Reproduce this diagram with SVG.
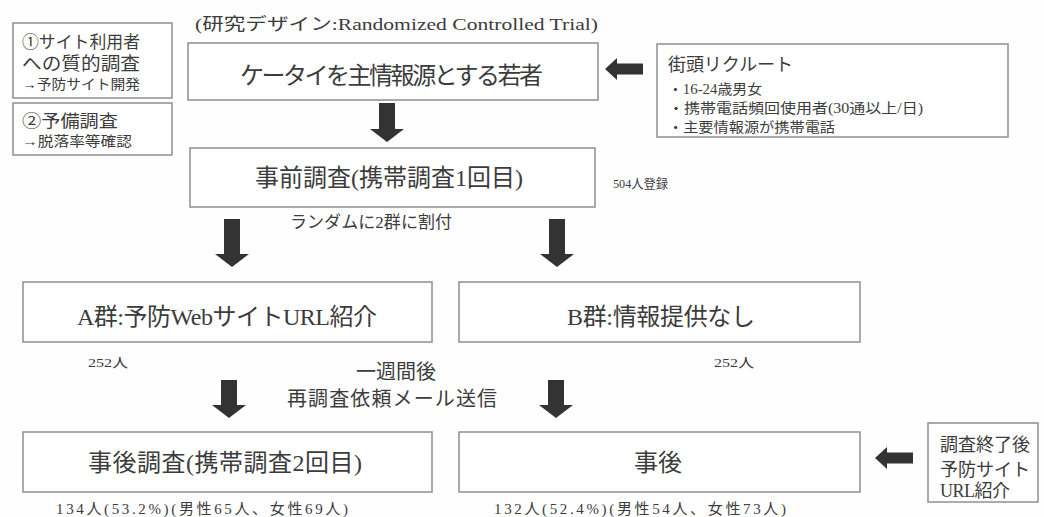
<svg xmlns="http://www.w3.org/2000/svg" width="1044" height="517" viewBox="0 0 1044 517">
<style>
  .box{fill:#fff;stroke:#8f8f8f;stroke-width:1.5}
  .t{font-family:"Liberation Serif","Noto Sans CJK JP",serif;fill:#3c3c3c}
  .big{font-size:24px}
  .mid{font-size:18px}
  .sm{font-size:14px}
  .xs{font-size:13px}
  .cnt{font-size:15px}
  .arr{fill:#333}
</style>
<rect width="1044" height="517" fill="#fefefe"/>

<g id="title">
  <text class="t" x="195" y="30" font-size="17" textLength="403" lengthAdjust="spacingAndGlyphs">(研究デザイン:Randomized Controlled Trial)</text>
</g>

<g id="node-qualitative">
  <rect class="box" x="13" y="23" width="159" height="75"/>
  <text class="t" x="22" y="48" font-size="17" textLength="118" lengthAdjust="spacingAndGlyphs">①サイト利用者</text>
  <text class="t" x="22" y="70" font-size="18" textLength="118" lengthAdjust="spacingAndGlyphs">への質的調査</text>
  <text class="t" x="22" y="89" font-size="14" textLength="118" lengthAdjust="spacingAndGlyphs">→予防サイト開発</text>
</g>

<g id="node-pilot">
  <rect class="box" x="13" y="103" width="159" height="52"/>
  <text class="t" x="22" y="127" font-size="17" textLength="96" lengthAdjust="spacingAndGlyphs">②予備調査</text>
  <text class="t" x="22" y="146" font-size="14" textLength="110" lengthAdjust="spacingAndGlyphs">→脱落率等確認</text>
</g>

<g id="node-target">
  <rect class="box" x="188" y="43" width="410" height="57"/>
  <text class="t big" x="240" y="84" textLength="303">ケータイを主情報源とする若者</text>
</g>

<g id="node-recruit">
  <rect class="box" x="657" y="44" width="351" height="93"/>
  <text class="t mid" x="668" y="71" textLength="125">街頭リクルート</text>
  <text class="t sm" x="668" y="94" textLength="94" lengthAdjust="spacingAndGlyphs">・16-24歳男女</text>
  <text class="t sm" x="668" y="113" textLength="255" lengthAdjust="spacingAndGlyphs">・携帯電話頻回使用者(30通以上/日)</text>
  <text class="t sm" x="668" y="132" textLength="167" lengthAdjust="spacingAndGlyphs">・主要情報源が携帯電話</text>
</g>

<g id="node-baseline">
  <rect class="box" x="190" y="148" width="405" height="59"/>
  <text class="t big" x="255" y="186" textLength="268">事前調査(携帯調査1回目)</text>
  <text class="t xs" x="613" y="188" textLength="55" lengthAdjust="spacingAndGlyphs">504人登録</text>
</g>

<g id="label-random">
  <text class="t" x="290" y="228" font-size="17" textLength="162">ランダムに2群に割付</text>
</g>

<g id="node-groupA">
  <rect class="box" x="23" y="282" width="409" height="60"/>
  <text class="t big" x="77" y="325" textLength="300">A群:予防WebサイトURL紹介</text>
  <text class="t xs" x="88" y="367" textLength="40" lengthAdjust="spacingAndGlyphs">252人</text>
</g>

<g id="node-groupB">
  <rect class="box" x="459" y="282" width="401" height="60"/>
  <text class="t big" x="567" y="325" textLength="188">B群:情報提供なし</text>
  <text class="t xs" x="714" y="367" textLength="40" lengthAdjust="spacingAndGlyphs">252人</text>
</g>

<g id="label-week">
  <text class="t" x="396" y="379" font-size="20" text-anchor="middle">一週間後</text>
  <text class="t" x="287" y="406" font-size="20" textLength="210">再調査依頼メール送信</text>
</g>

<g id="node-postA">
  <rect class="box" x="23" y="432" width="409" height="60"/>
  <text class="t big" x="88" y="471" textLength="274">事後調査(携帯調査2回目)</text>
  <text class="t cnt" x="56" y="514" textLength="292">134人(53.2%)(男性65人、女性69人)</text>
</g>

<g id="node-postB">
  <rect class="box" x="459" y="432" width="401" height="60"/>
  <text class="t big" x="658" y="471" text-anchor="middle">事後</text>
  <text class="t cnt" x="494" y="514" textLength="292">132人(52.4%)(男性54人、女性73人)</text>
</g>

<g id="node-endnote">
  <rect class="box" x="928" y="423" width="110" height="79"/>
  <text class="t mid" x="940" y="451" textLength="90">調査終了後</text>
  <text class="t mid" x="940" y="476" textLength="90">予防サイト</text>
  <text class="t mid" x="940" y="497" textLength="70">URL紹介</text>
</g>

<g id="connectors">
  <polygon class="arr" points="379,103 395,103 395,129 404,129 387,142 370,129 379,129"/>
  <polygon class="arr" points="224,219 240,219 240,254 249,254 232,267 215,254 224,254"/>
  <polygon class="arr" points="549,219 565,219 565,254 574,254 557,267 540,254 549,254"/>
  <polygon class="arr" points="221,380 237,380 237,405 246,405 229,418 212,405 221,405"/>
  <polygon class="arr" points="548,380 564,380 564,405 573,405 556,418 539,405 548,405"/>
  <polygon class="arr" points="643,63.5 643,74.5 617,74.5 617,80 605,69 617,58 617,63.5"/>
  <polygon class="arr" points="913,452.5 913,463.5 887,463.5 887,469 875,458 887,447 887,452.5"/>
</g>
</svg>
